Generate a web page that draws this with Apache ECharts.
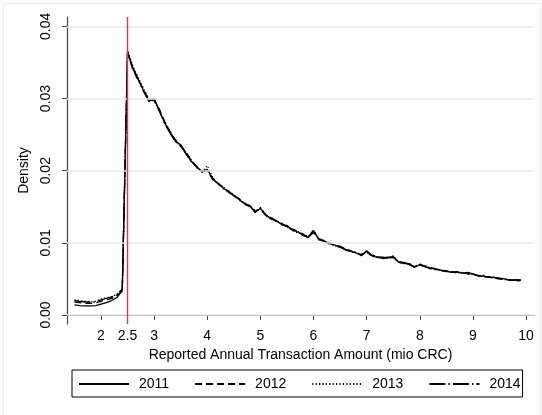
<!DOCTYPE html>
<html>
<head>
<meta charset="utf-8">
<script src="https://cdn.jsdelivr.net/npm/echarts@6/dist/echarts.min.js"></script>
<style>
html,body{margin:0;padding:0;background:#fff;}
#chart{width:542px;height:415px;}
</style>
</head>
<body>
<div id="chart"></div>
<script>
// ---- data ----
var xValues = [1.5,1.6,1.7,1.8,1.9,2.0,2.1,2.2,2.3,2.4,
  2.5,2.6,2.7,2.8,2.9,3.0,3.1,3.2,3.3,3.4,
  3.5,3.6,3.7,3.8,3.9,4.0,4.1,4.2,4.3,4.4,
  4.5,4.6,4.7,4.8,4.9,5.0,5.1,5.2,5.3,5.4,
  5.5,5.6,5.7,5.8,5.9,6.0,6.1,6.2,6.3,6.4,
  6.5,6.6,6.7,6.8,6.9,7.0,7.1,7.2,7.3,7.4,
  7.5,7.6,7.7,7.8,7.9,8.0,8.1,8.2,8.3,8.4,
  8.5,8.6,8.7,8.8,8.9,9.0,9.1,9.2,9.3,9.4,
  9.5,9.6,9.7,9.8,9.9];

var years = ['2011','2012','2013','2014'];

var d2011 = [.0014,.0013,.00125,.00125,.0013,.0015,.0017,.0020,.0024,.0034,
  .0365,.0343,.0327,.0311,.0296,.0300,.0283,.0266,.0253,.0241,
  .0236,.0224,.0213,.0205,.0199,.0202,.0189,.0182,.0176,.0171,
  .0166,.0160,.0154,.0152,.0142,.0148,.0138,.0134,.0130,.0126,
  .0123,.0118,.0115,.0111,.0107,.0117,.0105,.0102,.0099,.0097,
  .0094,.0091,.0088,.0086,.0083,.0088,.0082,.0080,.0080,.0079,
  .0081,.0073,.0072,.0071,.0066,.0070,.0067,.0065,.0064,.0062,
  .0061,.0059,.0060,.0058,.0058,.0057,.0054,.0054,.0052,.0052,
  .0051,.0050,.0048,.0048,.0049];

var d2012 = [.0018,.0017,.0016,.0016,.0017,.0019,.0021,.0023,.0027,.0033,
  .0362,.0340,.0325,.0313,.0298,.0297,.0285,.0268,.0254,.0243,
  .0234,.0226,.0214,.0206,.0200,.0199,.0190,.0183,.0177,.0170,
  .0165,.0161,.0155,.0150,.0144,.0146,.0139,.0135,.0131,.0127,
  .0122,.0119,.0116,.0112,.0108,.0114,.0106,.0103,.0100,.0096,
  .0095,.0092,.0089,.0085,.0084,.0086,.0083,.0081,.0079,.0078,
  .0080,.0074,.0073,.0070,.0067,.0069,.0068,.0066,.0063,.0062,
  .0060,.0060,.0059,.0059,.0057,.0056,.0055,.0053,.0053,.0051,
  .0050,.0049,.0049,.0047,.0048];

var d2013 = [.0021,.0020,.0019,.0018,.0019,.0022,.0024,.0025,.0029,.0035,
  .0367,.0345,.0329,.0314,.0300,.0296,.0284,.0267,.0255,.0242,
  .0233,.0225,.0215,.0204,.0198,.0207,.0191,.0181,.0178,.0170,
  .0167,.0159,.0156,.0151,.0145,.0147,.0137,.0135,.0129,.0127,
  .0122,.0117,.0114,.0112,.0109,.0116,.0106,.0101,.0100,.0096,
  .0093,.0091,.0089,.0086,.0084,.0087,.0081,.0081,.0078,.0079,
  .0082,.0074,.0071,.0072,.0067,.0069,.0066,.0066,.0063,.0062,
  .0060,.0060,.0058,.0059,.0057,.0056,.0055,.0053,.0052,.0051,
  .0051,.0049,.0048,.0048,.0047];

var d2014 = [.0020,.0019,.0018,.0018,.0018,.0021,.0023,.0025,.0028,.0036,
  .0364,.0341,.0326,.0310,.0297,.0299,.0282,.0265,.0252,.0240,
  .0235,.0223,.0212,.0206,.0198,.0201,.0188,.0183,.0175,.0172,
  .0165,.0161,.0153,.0151,.0143,.0149,.0139,.0133,.0131,.0125,
  .0124,.0118,.0116,.0110,.0108,.0118,.0104,.0103,.0098,.0097,
  .0095,.0090,.0088,.0087,.0082,.0089,.0083,.0080,.0079,.0080,
  .0080,.0073,.0072,.0070,.0066,.0071,.0067,.0064,.0065,.0061,
  .0061,.0059,.0059,.0058,.0059,.0057,.0054,.0055,.0052,.0052,
  .0050,.0050,.0048,.0049,.0048];

var xTicks = [2, 2.5, 3, 4, 5, 6, 7, 8, 9, 10];
var yTicks = [0, 0.01, 0.02, 0.03, 0.04];
var threshold = 2.5;
var xTitle = 'Reported Annual Transaction Amount (mio CRC)';
var yTitle = 'Density';

// ---- chart ----
var FONT = '"Liberation Sans", Arial, Helvetica, sans-serif';
var chart = echarts.init(document.getElementById('chart'), null, {renderer: 'canvas'});

function pairs(arr) { return xValues.map(function (x, i) { return [x, arr[i]]; }); }

var dashes = ['solid', [7, 4], [1.2, 2.2], [16, 3, 1.5, 3]];
var allData = [d2011, d2012, d2013, d2014];

var series = [];
series.push({
  type: 'line', data: [], silent: true, z: 1,
  markLine: {
    silent: true, symbol: ['none', 'none'], label: {show: false}, animation: false,
    lineStyle: {color: '#eaeaea', width: 1.5, type: 'solid'},
    data: yTicks.map(function (v) { return {yAxis: v}; })
  }
});
years.forEach(function (y, i) {
  series.push({
    name: y, type: 'line', data: pairs(allData[i]),
    symbol: 'none', showSymbol: false, z: 2,
    lineStyle: {color: '#000', width: 1.3, type: dashes[i]},
    itemStyle: {color: '#000'}
  });
});
series.push({
  type: 'line', data: [], silent: true, z: 3,
  markLine: {
    silent: true, symbol: ['none', 'none'], label: {show: false}, animation: false,
    lineStyle: {color: '#ff2a2a', width: 1.4, type: 'solid'},
    data: [{xAxis: threshold}]
  }
});

var option = {
  animation: false,
  backgroundColor: '#fff',
  textStyle: {fontFamily: FONT},
  graphic: [{
    type: 'rect', silent: true, z: -10,
    shape: {x: 3.5, y: 3.5, width: 537, height: 430},
    style: {fill: 'none', stroke: '#ececec', lineWidth: 1}
  }],
  grid: {left: 67, right: 8, top: 17, bottom: 91},
  xAxis: {
    type: 'value', min: 1.36, max: 10.15,
    axisLine: {show: true, lineStyle: {color: '#444', width: 1.2}},
    axisTick: {show: true, length: 5, lineStyle: {color: '#444', width: 1}, customValues: xTicks},
    axisLabel: {customValues: xTicks, color: '#000', fontSize: 14, fontFamily: FONT, margin: 5,
      formatter: function (v) { return String(v); }},
    splitLine: {show: false},
    name: xTitle, nameLocation: 'middle', nameGap: 21,
    nameTextStyle: {color: '#000', fontSize: 14, fontFamily: FONT}
  },
  yAxis: {
    type: 'value', min: -0.00125, max: 0.0413,
    axisLine: {show: true, lineStyle: {color: '#444', width: 1.2}},
    axisTick: {show: true, length: 5, lineStyle: {color: '#444', width: 1}, customValues: yTicks},
    axisLabel: {customValues: yTicks, color: '#000', fontSize: 14, fontFamily: FONT, rotate: 90, margin: 14,
      formatter: function (v) { return v.toFixed(2); }},
    splitLine: {show: false},
    name: yTitle, nameLocation: 'middle', nameGap: 30, nameRotate: 90,
    nameTextStyle: {color: '#000', fontSize: 14, fontFamily: FONT}
  },
  legend: {
    data: years, left: 72, top: 370, orient: 'horizontal',
    itemWidth: 50, itemHeight: 14, itemGap: 25,
    padding: [7, 2, 6, 6],
    borderColor: '#000', borderWidth: 1,
    itemStyle: {opacity: 0},
    textStyle: {color: '#000', fontSize: 14, fontFamily: FONT, padding: [0, 0, 0, 5]}
  },
  series: series
};
chart.setOption(option);
</script>
</body>
</html>
